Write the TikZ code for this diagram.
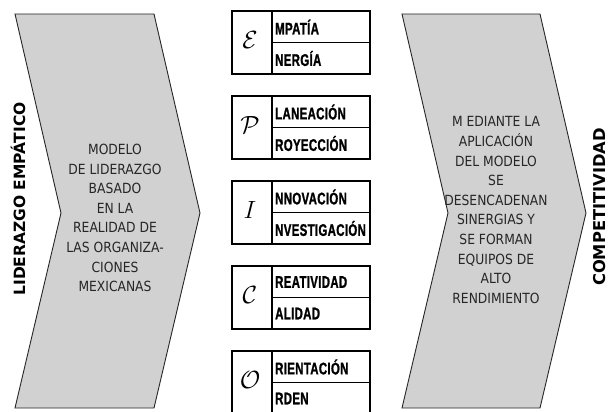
\documentclass[tikz,border=0pt]{standalone}
\usepackage{fontspec}
\newfontfamily\bodyfont[FakeStretch=0.88]{DejaVu Sans}
\newfontfamily\labfont{DejaVu Sans Bold}
\newfontfamily\condfont[FakeStretch=0.68,FakeBold=1.2,LetterSpace=2]{Liberation Sans Bold}
\begin{document}
\begin{tikzpicture}[x=1pt,y=-1pt,
  chev/.style={fill=chevgray,draw=black!85,line width=0.9pt,line join=miter},
  cellbox/.style={draw=black,line width=1.6pt},
  wordlab/.style={anchor=west,inner sep=0pt,font=\condfont\fontsize{16.8}{16.8}\selectfont},
  initial/.style={inner sep=0pt,font=\fontsize{25}{25}\selectfont},
  chevtext/.style={align=center,inner sep=0pt,font=\bodyfont\fontsize{14}{19.6}\selectfont,text=black!85},
  sidelab/.style={rotate=90,inner sep=0pt,font=\labfont\fontsize{15.5}{15.5}\selectfont}]
\definecolor{chevgray}{gray}{0.82}
\clip (0,0) rectangle (610,412);
\fill[white] (0,0) rectangle (610,412);
% chevrons
\draw[chev] (15,14) -- (154,14) -- (200,213) -- (154,408) -- (15,408) -- (61,213) -- cycle;
\draw[chev] (402,14) -- (540,14) -- (586,213) -- (540,408) -- (402,408) -- (448,213) -- cycle;
\node[chevtext] (lt) at (115,218) {MODELO\\DE LIDERAZGO\\BASADO\\EN LA\\REALIDAD DE\\LAS ORGANIZA-\\CIONES\\MEXICANAS};
\node[chevtext] (rt) at (496,210) {M EDIANTE LA\\APLICACIÓN\\DEL MODELO\\SE\\DESENCADENAN\\SINERGIAS Y\\SE FORMAN\\EQUIPOS DE\\ALTO\\RENDIMIENTO};
\node[sidelab] (ll) at (18,199) {LIDERAZGO EMPÁTICO};
\node[sidelab,font=\labfont\fontsize{16.3}{16.3}\selectfont] (rl) at (600,207) {COMPETITIVIDAD};
% boxes
\foreach \t/\ini/\wa/\wb [count=\i] in {11/{$\mathcal{E}$}/MPATÍA/NERGÍA,
   96/{$\mathcal{P}$}/LANEACIÓN/ROYECCIÓN,
   181/{$I$}/NNOVACIÓN/NVESTIGACIÓN,
   266/{$\mathcal{C}$}/REATIVIDAD/ALIDAD,
   351/{$\mathcal{O}$}/RIENTACIÓN/RDEN}{
  \draw[cellbox] (232,\t) rectangle (370,\t+63);
  \draw[cellbox] (272,\t) -- (272,\t+63);
  \draw[cellbox] (272,\t+31.5) -- (370,\t+31.5);
  \node[initial] (ini\i) at (250,\t+29) {\ini};
  \node[wordlab] (wa\i) at (275,\t+16) {\wa};
  \node[wordlab] (wb\i) at (275,\t+47.5) {\wb};
}
\end{tikzpicture}
\end{document}
